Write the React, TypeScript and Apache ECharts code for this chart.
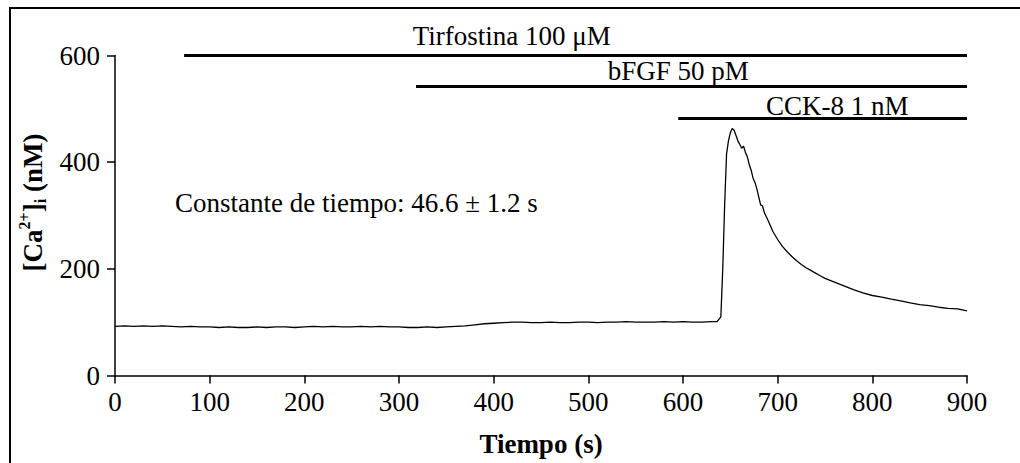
import React, { useEffect, useRef } from "react";
import * as echarts from "echarts";

// Time (s) and [Ca2+]i (nM) trace
const timeS = [
  0, 10, 20, 30, 40, 50, 60, 70, 80, 90, 100, 110, 120, 130, 140, 150, 160, 170, 180, 190,
  200, 210, 220, 230, 240, 250, 260, 270, 280, 290, 300, 310, 320, 330, 340, 350, 360, 370,
  380, 390, 400, 410, 420, 430, 440, 450, 460, 470, 480, 490, 500, 510, 520, 530, 540, 550,
  560, 570, 580, 590, 600, 610, 620, 630, 636, 640, 642, 644, 646, 648, 650, 652, 654, 656,
  658, 660, 662, 664, 666, 668, 670, 672, 674, 676, 678, 680, 682, 684, 686, 690, 695, 700,
  705, 710, 715, 720, 725, 730, 735, 740, 745, 750, 760, 770, 780, 790, 800, 810, 820, 830,
  840, 850, 860, 870, 880, 890, 900,
];
const calcium = [
  92, 93, 92, 93, 92, 93, 92, 91, 92, 91, 91, 90, 91, 90, 90, 91, 90, 91, 91, 90,
  91, 92, 91, 92, 91, 91, 92, 91, 92, 91, 91, 90, 90, 91, 90, 91, 92, 93,
  95, 97, 98, 99, 100, 100, 99, 99, 100, 99, 99, 100, 100, 99, 100, 100, 101, 100,
  100, 100, 101, 100, 101, 100, 100, 101, 101, 110, 200, 320, 415, 440, 455, 463, 460, 450,
  440, 433, 426, 430, 418, 410, 395, 385, 370, 362, 350, 335, 320, 318, 305, 290, 270, 255,
  242, 232, 223, 215, 208, 202, 197, 192, 187, 182, 175, 168, 161, 155, 150, 147, 143, 140,
  136, 133, 131, 128, 126, 125, 121,
];

// Treatment bars
const treatments = ["Tirfostina 100 \u03bcM", "bFGF 50 pM", "CCK-8 1 nM"];
const treatStart = [73, 318, 595];
const treatEnd = [900, 900, 900];
const treatLevel = [600, 542, 482];

const xTicks = [0, 100, 200, 300, 400, 500, 600, 700, 800, 900];
const yTicks = [0, 200, 400, 600];
const timeConstantText = "Constante de tiempo: 46.6 \u00b1 1.2 s";

const FONT = "'Liberation Serif', 'Times New Roman', serif";
const FS = 27;

export default function App() {
  const ref = useRef<HTMLDivElement>(null);

  useEffect(() => {
    if (!ref.current) return;
    const chart = echarts.init(ref.current, undefined, { renderer: "svg" });

    // label anchor positions (data units) for treatment labels
    const labelX = [419, 595, 763];
    const labelY = [637, 571, 506];

    const barSeries = treatments.map((t, i) => ({
      type: "line",
      name: t,
      data: [
        [treatStart[i], treatLevel[i]],
        [treatEnd[i], treatLevel[i]],
      ],
      symbol: "none",
      clip: false,
      silent: true,
      lineStyle: { color: "#000", width: 3 },
      z: 3,
    }));

    const labelSeries = {
      type: "scatter",
      symbolSize: 0,
      clip: false,
      silent: true,
      itemStyle: { color: "#000", opacity: 1 },
      data: treatments.map((t, i) => ({ value: [labelX[i], labelY[i]], name: t })),
      label: {
        show: true,
        position: "inside",
        formatter: (p: any) => p.name,
        fontFamily: FONT,
        fontSize: FS,
        color: "#000",
        opacity: 1,
        textBorderWidth: 0,
        textBorderColor: "transparent",
        align: "center",
        verticalAlign: "middle",
      },
    };

    chart.setOption({
      animation: false,
      backgroundColor: "#fff",
      grid: { left: 115, right: 53, top: 55.5, bottom: 87.5, containLabel: false },
      xAxis: {
        type: "value",
        min: 0,
        max: 900,
        interval: 100,
        name: "Tiempo (s)",
        nameLocation: "middle",
        nameGap: 55,
        nameTextStyle: { fontFamily: FONT, fontSize: FS, fontWeight: "bold", color: "#000" },
        axisLine: { show: true, lineStyle: { color: "#000", width: 1.5 } },
        axisTick: { show: true, length: 8, lineStyle: { color: "#000", width: 1.5 } },
        axisLabel: {
          fontFamily: FONT,
          fontSize: FS,
          color: "#000",
          margin: 13,
          formatter: (v: number) => (xTicks.includes(v) ? String(v) : ""),
        },
        splitLine: { show: false },
      },
      yAxis: {
        type: "value",
        min: 0,
        max: 600,
        interval: 200,
        name: "{b|[Ca}{sup|2+}{b|]}{sub|i}{b| (nM)}",
        nameLocation: "middle",
        nameGap: 66,
        nameTextStyle: {
          fontFamily: FONT,
          fontSize: FS,
          fontWeight: "bold",
          color: "#000",
          padding: [0, 0, 0, 26],
          rich: {
            b: { fontFamily: FONT, fontSize: FS, fontWeight: "bold", color: "#000", lineHeight: 32 },
            sup: { fontFamily: FONT, fontSize: 16, color: "#000", verticalAlign: "top", lineHeight: 16 },
            sub: { fontFamily: FONT, fontSize: 16, color: "#000", verticalAlign: "bottom", lineHeight: 16 },
          },
        },
        axisLine: { show: true, lineStyle: { color: "#000", width: 1.5 } },
        axisTick: { show: true, length: 8, lineStyle: { color: "#000", width: 1.5 } },
        axisLabel: {
          fontFamily: FONT,
          fontSize: FS,
          color: "#000",
          margin: 15,
          formatter: (v: number) => (yTicks.includes(v) ? String(v) : ""),
        },
        splitLine: { show: false },
      },
      graphic: [
        {
          type: "rect",
          shape: { x: 10, y: 8, width: 1200, height: 800 },
          style: { fill: "none", stroke: "#000", lineWidth: 2 },
          silent: true,
        },
        {
          type: "text",
          left: 175,
          top: 189,
          style: { text: timeConstantText, font: `${FS}px ${FONT}`, fill: "#000" },
        },
      ],
      series: [
        {
          type: "line",
          data: timeS.map((t, i) => [t, calcium[i]]),
          symbol: "none",
          smooth: false,
          lineStyle: { color: "#000", width: 1.3 },
          z: 2,
        },
        ...barSeries,
        labelSeries,
      ],
    });

    return () => chart.dispose();
  }, []);

  return (
    <div
      ref={ref}
      style={{ position: "fixed", left: 0, top: 0, width: 1020, height: 463, background: "#fff" }}
    />
  );
}
